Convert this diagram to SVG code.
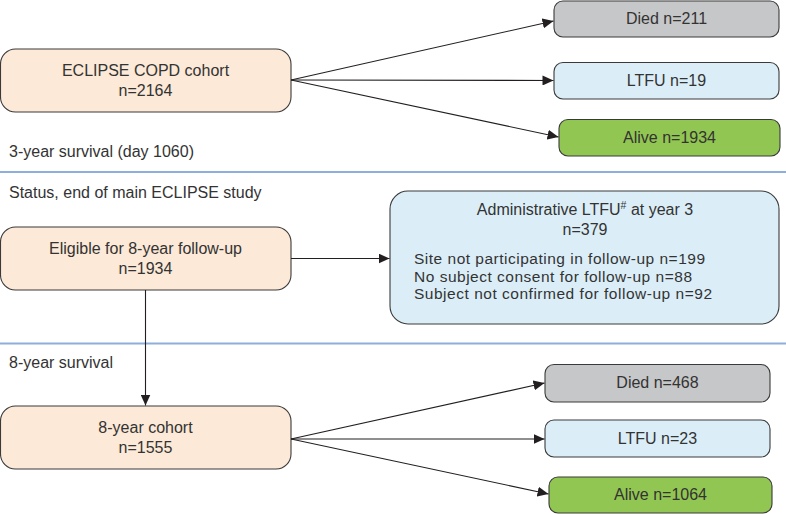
<svg xmlns="http://www.w3.org/2000/svg" width="786" height="514" viewBox="0 0 786 514">
<defs>
<marker id="arr" markerUnits="userSpaceOnUse" markerWidth="12" markerHeight="10" refX="11" refY="5" orient="auto">
<path d="M0,0 L11,5 L0,10 Z" fill="#231f20"/>
</marker>
<style>
.box{stroke:#3a3a3a;stroke-width:1.1}
.peach{fill:#fce9d7}
.grey{fill:#c6c7c8}
.blue{fill:#dbeef8}
.green{fill:#92c652}
text{font-family:"Liberation Sans",Arial,sans-serif;font-size:16px;fill:#333}
.c{text-anchor:middle}
.l{font-size:15.5px}
.sep{stroke:#8eaedb;stroke-width:2}
.con{stroke:#231f20;stroke-width:1.1;fill:none;marker-end:url(#arr)}
</style>
</defs>
<rect width="786" height="514" fill="#fff"/>
<line class="sep" x1="0" y1="172" x2="786" y2="172"/>
<line class="sep" x1="0" y1="343.5" x2="786" y2="343.5"/>
<text x="9" y="157">3-year survival (day 1060)</text>
<text x="9" y="198">Status, end of main ECLIPSE study</text>
<text x="9" y="368">8-year survival</text>
<g id="n_cohort"><rect class="box peach" x="0.5" y="49" width="290.5" height="63" rx="15"/><text class="c" x="145.5" y="76">ECLIPSE COPD cohort</text><text class="c" x="145.5" y="96">n=2164</text></g>
<g id="n_died1"><rect class="box grey" x="554" y="1" width="225" height="36" rx="9"/><text class="c" x="666.5" y="24">Died n=211</text></g>
<g id="n_ltfu1"><rect class="box blue" x="554" y="62.5" width="225" height="36.5" rx="9"/><text class="c" x="666.5" y="86">LTFU n=19</text></g>
<g id="n_alive1"><rect class="box green" x="559" y="119.5" width="221" height="36.5" rx="9"/><text class="c" x="669.5" y="143">Alive n=1934</text></g>
<g id="n_eligible"><rect class="box peach" x="0.5" y="227" width="290.5" height="63" rx="15"/><text class="c" x="145.5" y="254">Eligible for 8-year follow-up</text><text class="c" x="145.5" y="274">n=1934</text></g>
<g id="n_admin"><rect class="box blue" x="390" y="191" width="389" height="133" rx="18"/><text class="c" x="585" y="215">Administrative LTFU<tspan font-size="10.5" dy="-6">#</tspan><tspan dy="6"> at year 3</tspan></text><text class="c" x="585" y="235">n=379</text><text class="l" x="414" y="264" textLength="291" lengthAdjust="spacing">Site not participating in follow-up n=199</text><text class="l" x="414" y="281.5" textLength="278" lengthAdjust="spacing">No subject consent for follow-up n=88</text><text class="l" x="414" y="299" textLength="298" lengthAdjust="spacing">Subject not confirmed for follow-up n=92</text></g>
<g id="n_cohort8"><rect class="box peach" x="0.5" y="406" width="290.5" height="63" rx="15"/><text class="c" x="145.5" y="433">8-year cohort</text><text class="c" x="145.5" y="453">n=1555</text></g>
<g id="n_died2"><rect class="box grey" x="545" y="364.5" width="225" height="37.5" rx="9"/><text class="c" x="657.5" y="388">Died n=468</text></g>
<g id="n_ltfu2"><rect class="box blue" x="545" y="420" width="225" height="37" rx="9"/><text class="c" x="657.5" y="444">LTFU n=23</text></g>
<g id="n_alive2"><rect class="box green" x="549" y="477" width="223" height="36" rx="9"/><text class="c" x="660.5" y="500">Alive n=1064</text></g>
<g id="connectors">
<line class="con" x1="291" y1="80" x2="553.5" y2="21"/>
<line class="con" x1="291" y1="80" x2="553.5" y2="80.5"/>
<line class="con" x1="291" y1="80" x2="558.5" y2="137"/>
<line class="con" x1="291" y1="258.5" x2="389.5" y2="258.5"/>
<line class="con" x1="145.5" y1="290" x2="145.5" y2="405.5"/>
<line class="con" x1="291" y1="439" x2="544.5" y2="383"/>
<line class="con" x1="291" y1="439" x2="544.5" y2="439"/>
<line class="con" x1="291" y1="439" x2="548.5" y2="494"/>
</g>
</svg>
